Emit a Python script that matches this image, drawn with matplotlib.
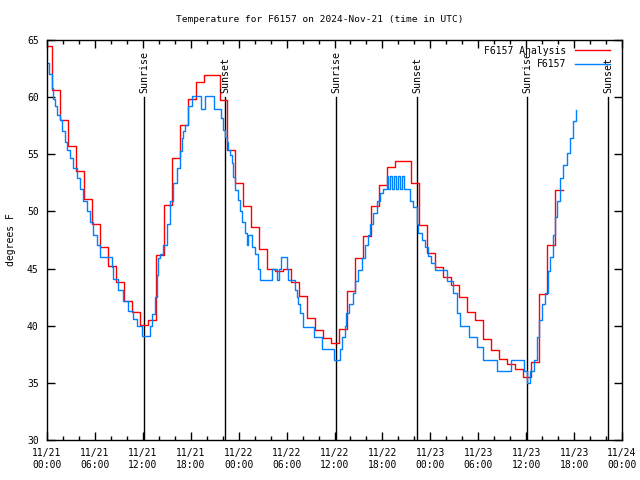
import numpy as np
import pandas as pd
import matplotlib
matplotlib.use("Agg")
import matplotlib.pyplot as plt
import matplotlib.dates as mdates

base = pd.Timestamp("2024-11-21 00:00")

# Analysis (hourly steps): first value, then values starting at k+0.6 h
red_first = 64.5
red_vals = [60.6, 58.0, 55.7, 53.5, 51.1, 48.9, 46.9, 45.2, 43.8, 42.2,
            41.2, 40.1, 40.5, 46.2, 50.6, 54.7, 57.6, 59.8, 61.3, 61.9,
            61.9, 59.75, 55.4, 52.5, 50.5, 48.6, 46.7, 45.0, 44.8, 45.0,
            43.8, 42.6, 40.7, 39.6, 38.9, 38.5, 39.7, 43.0, 45.9, 47.85,
            50.5, 52.3, 53.9, 54.4, 54.4, 52.5, 48.8, 46.4, 45.1, 44.3,
            43.6, 42.5, 41.2, 40.5, 38.8, 37.9, 37.05, 36.65, 36.25, 35.55,
            36.8, 42.8, 47.1, 51.9]
red_offset = 0.6

# Observations (hours since 11/21 00:00, deg F)
blue_hours = [0.04, 0.29, 0.59, 0.79, 1.0, 1.21, 1.63, 1.84, 2.25, 2.47,
              2.88, 3.29, 3.72, 4.13, 4.55, 4.97, 5.38, 5.80, 6.22, 6.64,
              8.10, 8.30, 8.93, 9.55, 10.18, 10.81, 11.23, 11.86, 12.90, 13.21,
              13.52, 13.73, 13.96, 14.13, 14.56, 14.99, 15.40, 15.82, 16.24, 16.65,
              16.87, 17.07, 17.28, 17.69, 18.12, 19.25, 19.78, 20.91, 21.75, 22.00,
              22.29, 22.50, 22.70, 22.92, 23.13, 23.33, 23.54, 23.95, 24.17, 24.38,
              24.79, 25.01, 25.21, 25.63, 26.05, 26.46, 26.67, 28.14, 28.76, 29.09,
              29.26, 30.02, 30.22, 31.05, 31.27, 31.47, 31.68, 32.09, 33.47, 34.40,
              35.98, 36.73, 36.98, 37.27, 37.48, 37.81, 38.31, 38.52, 38.94, 39.41,
              39.82, 40.23, 40.45, 40.86, 41.28, 41.70, 42.11, 42.54, 42.74, 42.95,
              43.26, 43.45, 43.70, 43.95, 44.20, 44.45, 44.70, 45.04, 45.45, 45.87,
              46.29, 46.49, 46.92, 47.33, 47.75, 48.08, 48.59, 50.05, 50.88, 51.30,
              51.72, 52.88, 53.81, 54.63, 56.39, 58.06, 59.77, 60.07, 60.48, 60.98,
              61.32, 61.57, 61.95, 62.36, 62.77, 62.99, 63.32, 63.61, 63.82, 64.24,
              64.65, 65.08, 65.49, 65.90, 66.20]
blue_temps = [63.0, 62.0, 60.8, 59.8, 59.2, 58.4, 58.0, 57.0, 56.1, 55.4,
              54.7, 53.8, 52.9, 52.0, 50.9, 50.0, 49.1, 47.9, 47.1, 46.0,
              45.1, 44.1, 43.1, 42.2, 41.3, 40.6, 40.0, 39.1, 40.0, 41.0,
              42.5, 44.4, 45.9, 46.3, 47.1, 48.9, 50.9, 52.5, 53.8, 55.3,
              56.4, 57.0, 57.6, 59.2, 60.1, 59.0, 60.1, 59.0, 58.2, 57.1,
              56.5, 56.1, 55.4, 54.9, 54.2, 53.0, 51.9, 51.0, 50.0, 49.1,
              48.1, 47.1, 47.9, 46.9, 46.3, 45.0, 44.0, 45.0, 44.0, 45.0,
              46.0, 45.0, 44.0, 43.1, 42.5, 41.9, 41.1, 39.9, 39.0, 38.0,
              37.0, 38.0, 39.0, 40.0, 41.1, 41.9, 42.9, 43.9, 44.9, 45.9,
              47.1, 47.9, 48.9, 49.9, 50.9, 51.6, 52.0, 53.1, 52.0, 53.1,
              52.0, 53.1, 52.0, 53.1, 52.0, 53.1, 52.0, 52.0, 50.9, 50.4,
              48.9, 48.1, 47.5, 46.9, 46.1, 45.5, 44.9, 43.9, 42.9, 41.1,
              40.0, 39.0, 38.1, 37.0, 36.0, 37.0, 36.0, 35.0, 36.0, 37.0,
              39.0, 40.5, 41.9, 42.9, 44.8, 46.0, 47.9, 49.5, 50.9, 52.9,
              54.1, 55.1, 56.4, 57.9, 58.9]

sun_times = ["2024-11-21 12:11", "2024-11-21 22:20", "2024-11-22 12:14",
             "2024-11-22 22:22", "2024-11-23 12:09", "2024-11-23 22:17"]
sun_labels = ["Sunrise", "Sunset", "Sunrise", "Sunset", "Sunrise", "Sunset"]

title = "Temperature for F6157 on 2024-Nov-21 (time in UTC)"
mono = "DejaVu Sans Mono"

# build series
red_hours = [0.0] + [red_offset + k for k in range(len(red_vals))] + [red_offset + len(red_vals)]
red_temps = [red_first] + red_vals + [red_vals[-1]]
red_t = base + pd.to_timedelta(red_hours, unit="h")
blue_t = base + pd.to_timedelta(blue_hours, unit="h")

fig = plt.figure(figsize=(6.4, 4.8), dpi=100)
ax = fig.add_axes([47/640, 1-440/480, 575/640, 400/480])

for ts, lab in zip(sun_times, sun_labels):
    t = pd.Timestamp(ts)
    ax.plot([t, t], [30, 60], color="black", lw=1.0, zorder=1)
    ax.text(t, 60.35, lab, rotation=90, ha="center", va="bottom",
            fontsize=7.2, family=mono, zorder=3)

ax.plot(red_t, red_temps, drawstyle="steps-post", color="#ff0000", lw=1.0,
        label="F6157 Analysis", zorder=2)
ax.plot(blue_t, blue_temps, drawstyle="steps-post", color="#0080ff", lw=1.0,
        label="F6157", zorder=2)

ax.set_xlim(base, base + pd.Timedelta(hours=72))
ax.set_ylim(30, 65)
ax.set_yticks(np.arange(30, 66, 5))
ax.xaxis.set_major_locator(mdates.HourLocator(byhour=range(0, 24, 6)))
ax.xaxis.set_minor_locator(mdates.HourLocator(byhour=range(0, 24, 2)))
ax.xaxis.set_major_formatter(mdates.DateFormatter("%m/%d\n%H:%M"))
ax.tick_params(axis="both", which="major", direction="in", length=6, width=1,
               top=True, right=True, labelsize=7, pad=6)
ax.tick_params(axis="x", which="minor", direction="in", length=3, width=1,
               top=True)
for lbl in ax.get_xticklabels() + ax.get_yticklabels():
    lbl.set_family(mono)
for s in ax.spines.values():
    s.set_linewidth(1.0)
    s.set_color("black")

ax.set_ylabel("degrees F", fontsize=7, family=mono, labelpad=8)
fig.text(0.5, 1 - 20/480, title, fontsize=6.8, family=mono,
         ha="center", va="center")

leg = ax.legend(loc="upper right", bbox_to_anchor=(0.99, 1.0), frameon=False,
                markerfirst=False, handlelength=3.6, handletextpad=0.9,
                labelspacing=0.35, borderaxespad=0.2,
                prop={"family": mono, "size": 7})
for t in leg.get_texts():
    t.set_ha("right")

fig.savefig("out.png", dpi=100)
